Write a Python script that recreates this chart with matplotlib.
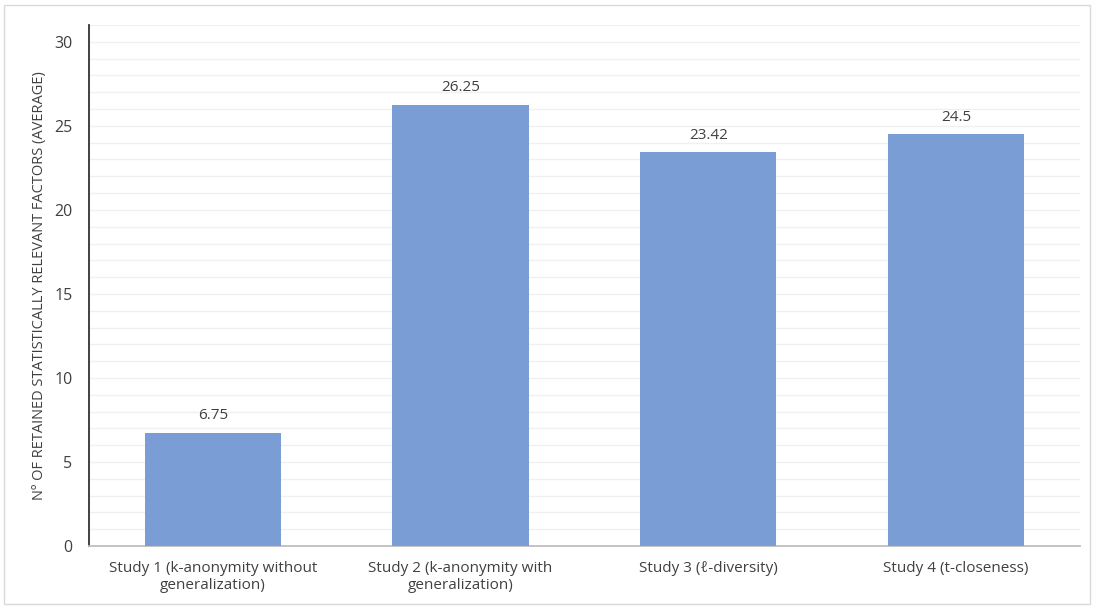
import numpy as np
import matplotlib.pyplot as plt
from matplotlib.patches import Rectangle

plt.rcParams["font.family"] = ["Open Sans", "DejaVu Sans"]

estudios = [
    "Study 1 (k-anonymity without\ngeneralization)",
    "Study 2 (k-anonymity with\ngeneralization)",
    "Study 3 (ℓ-diversity)",
    "Study 4 (t-closeness)",
]
factores = [6.75, 26.25, 23.42, 24.5]
etiquetas = ["6.75", "26.25", "23.42", "24.5"]

texto = "#404040"

fig = plt.figure(figsize=(10.94, 6.06), dpi=100)
ax = fig.add_axes([0.0814, 0.099, 0.9056, 0.8597])

x = np.arange(len(estudios))
ax.bar(x, factores, width=0.55, color="#7A9DD6", zorder=3)
for xi, v, et in zip(x, factores, etiquetas):
    ax.annotate(et, (xi, v), xytext=(0, 7), textcoords="offset points",
                ha="center", va="bottom", fontsize=11, color=texto)

ax.set_xlim(-0.5, len(estudios) - 0.5)
ax.set_ylim(0, 31)
ax.set_yticks(range(0, 31, 5))
ax.set_yticks(range(0, 32), minor=True)
ax.grid(True, axis="y", which="both", color="#F0F0F0", lw=1, zorder=0)
ax.tick_params(axis="y", which="both", length=0, labelsize=11.5, labelcolor=texto, pad=12)
ax.set_xticks(x)
ax.set_xticklabels(estudios, fontsize=11, color=texto)
ax.tick_params(axis="x", length=0, pad=11)

for lado in ("top", "right"):
    ax.spines[lado].set_visible(False)
ax.spines["left"].set_color("#333333")
ax.spines["left"].set_linewidth(1.3)
ax.spines["bottom"].set_color("#BFBFBF")
ax.spines["bottom"].set_linewidth(1.3)

ax.set_ylabel("Nº OF RETAINED STATISTICALLY RELEVANT FACTORS (AVERAGE)",
              fontsize=10.5, color=texto, labelpad=5)

# marco exterior de la figura
fig.patches.append(Rectangle((0.004, 0.004), 0.992, 0.988, transform=fig.transFigure,
                             fill=False, edgecolor="#D9D9D9", lw=1))

fig.savefig("out.png", dpi=100)
